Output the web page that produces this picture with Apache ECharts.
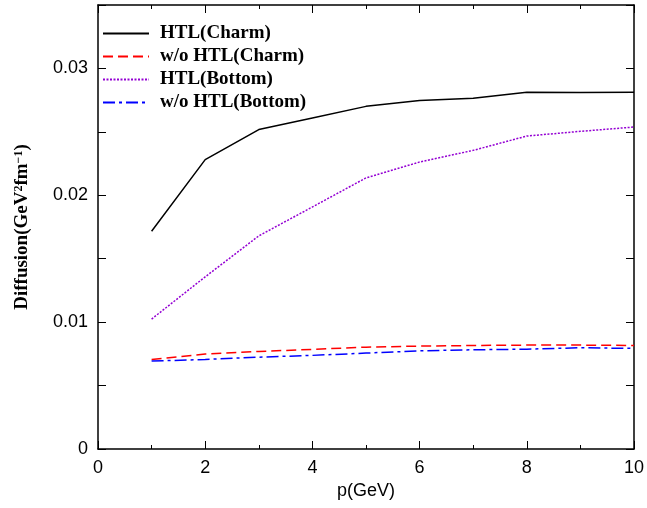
<!DOCTYPE html>
<html><head><meta charset="utf-8">
<script src="https://cdn.jsdelivr.net/npm/echarts@6/dist/echarts.min.js"></script>
<style>html,body{margin:0;padding:0;background:#fff}#c{width:647px;height:508px}</style>
</head><body><div id="c"></div>
<script>
const momenta = [1, 2, 3, 4, 5, 6, 7, 8, 9, 10];
const htlCharm = [0.01717, 0.02281, 0.02518, 0.0261, 0.02701, 0.02747, 0.02765, 0.02813, 0.0281, 0.02813];
const woHtlCharm = [0.00706, 0.00748, 0.00769, 0.00785, 0.00803, 0.00811, 0.00816, 0.00819, 0.00819, 0.00816];
const htlBottom = [0.01024, 0.01357, 0.0168, 0.01908, 0.02137, 0.02262, 0.02354, 0.02467, 0.02504, 0.02538];
const woHtlBottom = [0.00693, 0.00706, 0.00724, 0.00738, 0.00756, 0.00774, 0.00782, 0.00787, 0.00798, 0.00793];
const seriesNames = ['HTL(Charm)', 'w/o HTL(Charm)', 'HTL(Bottom)', 'w/o HTL(Bottom)'];

const pair = arr => momenta.map((p, i) => [p, arr[i]]);
const serif = '"Liberation Serif","DejaVu Serif",serif';
const sans = '"Liberation Sans",Arial,sans-serif';

const axisLine = { show: true, onZero: false, lineStyle: { color: '#000', width: 1.5 } };
const chart = echarts.init(document.getElementById('c'));
function mk(name, data, color, type) {
  return {
    name, type: 'line', data: pair(data), showSymbol: false, symbol: 'none',
    xAxisIndex: 0, yAxisIndex: 0, animation: false,
    lineStyle: { color, width: 1.5, type },
    itemStyle: { color }
  };
}
chart.setOption({
  animation: false,
  grid: { left: 98, right: 11, top: 5, bottom: 59 },
  legend: {
    orient: 'vertical', left: 97, top: 19, itemWidth: 46, itemHeight: 14, itemGap: 4,
    itemStyle: { opacity: 0 },
    textStyle: { fontFamily: serif, fontWeight: 'bold', fontSize: 19, color: '#000', padding: [0, 0, 0, 6] },
    data: seriesNames
  },
  xAxis: [{
    type: 'value', min: 0, max: 10, interval: 2,
    name: 'p(GeV)', nameLocation: 'middle', nameGap: 32,
    nameTextStyle: { fontFamily: sans, fontSize: 18, color: '#000' },
    axisLine, splitLine: { show: false },
    axisTick: { inside: true, length: 8, lineStyle: { color: '#000' } },
    minorTick: { show: true, splitNumber: 2, length: 4, lineStyle: { color: '#000' } },
    axisLabel: { fontFamily: sans, fontSize: 18, color: '#000', margin: 10 }
  }, {
    type: 'value', min: 0, max: 10, interval: 2, position: 'top',
    axisLine, splitLine: { show: false },
    axisTick: { inside: true, length: 8, lineStyle: { color: '#000' } },
    minorTick: { show: true, splitNumber: 2, length: 4, lineStyle: { color: '#000' } },
    axisLabel: { show: false }
  }],
  yAxis: [{
    type: 'value', min: 0, max: 0.035, interval: 0.005,
    name: 'Diffusion(GeV{s|2}fm{s|−1})', nameLocation: 'middle', nameGap: 66, nameRotate: 90,
    nameTextStyle: {
      fontFamily: serif, fontWeight: 'bold', fontSize: 19, color: '#000',
      rich: { s: { fontFamily: serif, fontWeight: 'bold', fontSize: 12, color: '#000', verticalAlign: 'top', lineHeight: 10 } }
    },
    axisLine, splitLine: { show: false },
    axisTick: { inside: true, length: 8, lineStyle: { color: '#000' } },
    axisLabel: {
      fontFamily: sans, fontSize: 18, color: '#000', margin: 10,
      formatter: v => {
        const k = v * 100;
        if (Math.abs(k - Math.round(k)) > 1e-6) return '';
        return v === 0 ? '0' : v.toFixed(2);
      }
    }
  }, {
    type: 'value', min: 0, max: 0.035, interval: 0.005, position: 'right',
    axisLine, splitLine: { show: false },
    axisTick: { inside: true, length: 8, lineStyle: { color: '#000' } },
    axisLabel: { show: false }
  }],
  series: [
    mk(seriesNames[0], htlCharm, '#000000', 'solid'),
    mk(seriesNames[1], woHtlCharm, '#ff0000', [10, 5]),
    mk(seriesNames[2], htlBottom, '#9400d3', [2, 1.5]),
    mk(seriesNames[3], woHtlBottom, '#0000ff', [12, 4, 3, 4])
  ]
});
</script></body></html>
